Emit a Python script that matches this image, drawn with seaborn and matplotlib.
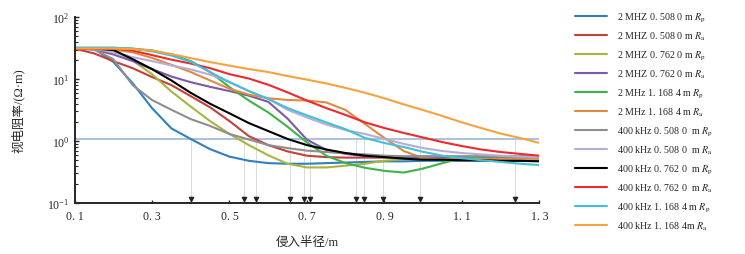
import numpy as np
import pandas as pd
import seaborn as sns
import matplotlib.pyplot as plt
import matplotlib.transforms as mtransforms
from matplotlib.ticker import LogLocator, NullFormatter

# ---------------- data ----------------
radius = [0.10, 0.15, 0.20, 0.25, 0.30, 0.35, 0.40, 0.45, 0.50, 0.55, 0.60, 0.65, 0.70,
          0.75, 0.80, 0.85, 0.90, 0.95, 1.00, 1.05, 1.10, 1.15, 1.20, 1.25, 1.30]

rp_2m_0508 = [31, 31, 19, 8.6, 3.4, 1.6, 1.08, 0.74, 0.56, 0.48, 0.44, 0.43, 0.43,
              0.44, 0.45, 0.46, 0.47, 0.47, 0.48, 0.48, 0.48, 0.48, 0.48, 0.48, 0.48]
ra_2m_0508 = [31, 26, 19.5, 15, 10.8, 8.0, 5.3, 3.5, 2.1, 1.2, 0.86, 0.68, 0.58,
              0.55, 0.54, 0.54, 0.54, 0.54, 0.53, 0.53, 0.53, 0.53, 0.53, 0.53, 0.53]
rp_2m_0762 = [31, 31, 29, 20, 12, 6.3, 3.6, 2.1, 1.3, 0.86, 0.59, 0.43, 0.375,
              0.375, 0.40, 0.43, 0.48, 0.51, 0.53, 0.53, 0.53, 0.53, 0.53, 0.53, 0.53]
ra_2m_0762 = [31, 30, 25, 19.5, 14.5, 11, 8.9, 7.5, 6.4, 5.4, 4.3, 2.3, 1.05,
              0.72, 0.62, 0.57, 0.55, 0.55, 0.55, 0.55, 0.55, 0.55, 0.55, 0.55, 0.55]
rp_2m_1168 = [32, 32, 32, 31, 29, 25, 19.5, 13, 7.4, 4.5, 2.9, 1.7, 0.95,
              0.58, 0.44, 0.37, 0.33, 0.31, 0.36, 0.44, 0.53, 0.56, 0.56, 0.56, 0.56]
ra_2m_1168 = [31, 31, 30, 27, 22, 17, 13, 9.5, 7.0, 5.6, 4.9, 4.6, 4.5,
              4.2, 3.16, 1.88, 1.12, 0.69, 0.53, 0.51, 0.51, 0.51, 0.52, 0.52, 0.52]
rp_400k_0508 = [31, 30, 21, 8.0, 4.6, 3.2, 2.26, 1.75, 1.3, 1.06, 0.86, 0.77, 0.70,
                0.665, 0.63, 0.61, 0.58, 0.57, 0.57, 0.57, 0.57, 0.57, 0.57, 0.57, 0.57]
ra_400k_0508 = [31, 31, 27, 22.6, 19.5, 16.6, 14.3, 11.8, 9.0, 6.4, 4.8, 3.2, 2.4,
                1.85, 1.5, 1.3, 1.08, 0.9, 0.77, 0.69, 0.64, 0.61, 0.58, 0.56, 0.55]
rp_400k_0762 = [31, 31, 29.5, 21, 14.5, 9.5, 6.0, 4.0, 2.8, 1.95, 1.45, 1.08, 0.86,
                0.73, 0.64, 0.58, 0.55, 0.52, 0.50, 0.50, 0.49, 0.49, 0.48, 0.48, 0.47]
ra_400k_0762 = [31, 31, 31, 28.8, 24.4, 20.6, 17.8, 15, 12, 10.2, 8.1, 6.1, 4.5,
                3.4, 2.63, 2.0, 1.62, 1.35, 1.14, 0.96, 0.83, 0.73, 0.665, 0.62, 0.58]
rp_400k_1168 = [32, 32, 32, 31, 28, 24, 19, 13, 8.9, 6.4, 4.8, 3.4, 2.6,
                2.0, 1.55, 1.12, 0.93, 0.8, 0.67, 0.58, 0.53, 0.49, 0.46, 0.43, 0.41]
ra_400k_1168 = [31, 31, 31, 30.5, 28.8, 25.3, 21.8, 18.8, 16.5, 14.5, 13, 11.2, 9.8,
                8.5, 7.2, 6.0, 4.9, 3.9, 3.16, 2.53, 2.0, 1.62, 1.32, 1.12, 0.93]

labels = [
    r"2 MHZ 0. 508 0 m $R_\mathrm{p}$",
    r"2 MHZ 0. 508 0 m $R_\mathrm{a}$",
    r"2 MHZ 0. 762 0 m $R_\mathrm{p}$",
    r"2 MHZ 0. 762 0 m $R_\mathrm{a}$",
    r"2 MHz 1. 168 4 m $R_\mathrm{p}$",
    r"2 MHz 1. 168 4 m $R_\mathrm{a}$",
    r"400 kHz 0. 508 0  m $R_\mathrm{p}$",
    r"400 kHz 0. 508 0  m $R_\mathrm{a}$",
    r"400 kHz 0. 762 0  m $R_\mathrm{p}$",
    r"400 kHz 0. 762 0  m $R_\mathrm{a}$",
    r"400 kHz 1. 168 4 m $R_\mathrm{p}$",
    r"400 kHz 1. 168 4m $R_\mathrm{a}$",
]
series = [rp_2m_0508, ra_2m_0508, rp_2m_0762, ra_2m_0762, rp_2m_1168, ra_2m_1168,
          rp_400k_0508, ra_400k_0508, rp_400k_0762, ra_400k_0762, rp_400k_1168, ra_400k_1168]
colors = ['#2f7fc1', '#c2413b', '#a9b53c', '#7b5aa6', '#3db34a', '#df8a42',
          '#8e8e8e', '#b7acd6', '#000000', '#ee2a2e', '#42c0d8', '#f8a13f']

# apparent resistivity reference level and invasion radii where curves cross it
ref_level = 1.08
cross_radius = [0.40, 0.538, 0.569, 0.656, 0.692, 0.708, 0.826, 0.848, 0.897, 0.992, 1.236]

xticks = [0.1, 0.3, 0.5, 0.7, 0.9, 1.1, 1.3]
xtick_labels = ['0. 1', '0. 3', '0. 5', '0. 7', '0. 9', '1. 1', '1. 3']

df = pd.concat([pd.DataFrame({'r': radius, 'rho': s, 'curve': lab})
                for s, lab in zip(series, labels)], ignore_index=True)

# ---------------- style ----------------
sns.set_style('ticks')
plt.rcParams['font.family'] = ['Liberation Serif', 'Noto Sans CJK SC']
plt.rcParams['mathtext.fontset'] = 'stix'
plt.rcParams['xtick.direction'] = 'in'
plt.rcParams['ytick.direction'] = 'in'

fig = plt.figure(figsize=(7.45, 2.55), dpi=100)
ax = fig.add_axes([0.1, 0.2, 0.624, 0.729])

# reference line + drop lines
ax.axhline(ref_level, color='#a8c3df', lw=1.4, zorder=1)
ax.vlines(cross_radius, 0.1, ref_level, color='#d4d4d4', lw=0.6, zorder=1)
trans = mtransforms.blended_transform_factory(ax.transData, ax.transAxes)
ax.scatter(cross_radius, [0.02] * len(cross_radius), marker='v', s=9,
           color='#222222', transform=trans, zorder=3, clip_on=False)

sns.lineplot(data=df, x='r', y='rho', hue='curve', hue_order=labels,
             palette=colors, estimator=None, lw=1.5, ax=ax, zorder=2)

ax.set_yscale('log')
ax.set_ylim(0.1, 100)
ax.set_xlim(0.1, 1.3)
ax.set_xticks(xticks)
ax.set_xticklabels(xtick_labels, fontsize=8.5)
ax.yaxis.set_major_locator(LogLocator(base=10, numticks=5))
ax.yaxis.set_minor_locator(LogLocator(base=10, subs=np.arange(2, 10), numticks=20))
ax.yaxis.set_minor_formatter(NullFormatter())
ax.tick_params(axis='y', labelsize=8.5, length=3, width=1)
ax.tick_params(axis='y', which='minor', length=1.8, width=0.8)
ax.tick_params(axis='x', length=2.5, width=1, pad=5)

for side in ['top', 'right']:
    ax.spines[side].set_visible(False)
for side in ['left', 'bottom']:
    ax.spines[side].set_linewidth(1.4)

ax.set_xlabel('侵入半径/m', fontsize=9, labelpad=10)
ax.set_ylabel('视电阻率/(Ω·m)', fontsize=9, labelpad=16)

handles, labs = ax.get_legend_handles_labels()
leg = ax.legend(handles, labs, loc='upper left', bbox_to_anchor=(0.772, 0.955),
                bbox_transform=fig.transFigure, frameon=False, fontsize=7.2,
                handlelength=3.2, handletextpad=1.0, labelspacing=0.62,
                borderpad=0, borderaxespad=0)
for line in leg.get_lines():
    line.set_linewidth(1.5)

fig.savefig('out.png', dpi=100)
